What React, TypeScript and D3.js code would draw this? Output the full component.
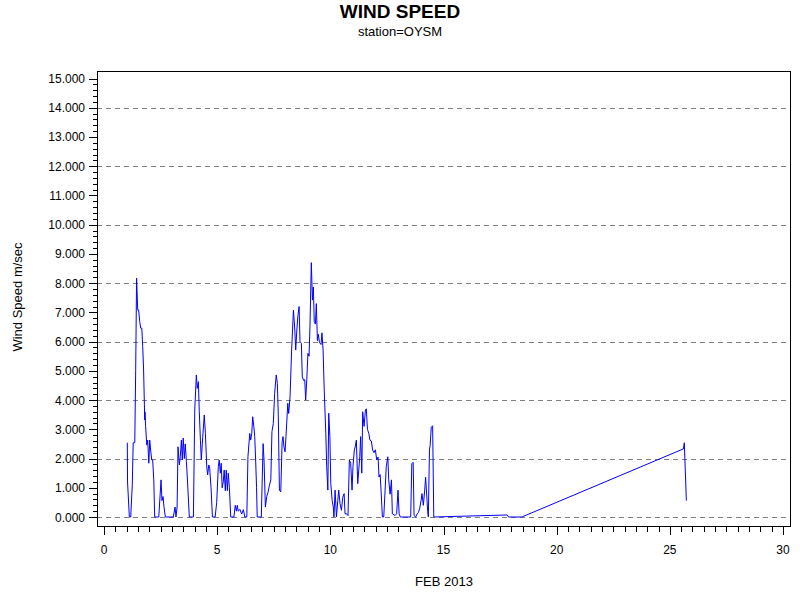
import React from "react";
import * as d3 from "d3";

// Day of February 2013 (fractional) and wind speed (m/sec)
const days: number[] = [
  1.03, 1.04, 1.12, 1.18, 1.25, 1.29, 1.36, 1.40, 1.44, 1.49, 1.53, 1.58, 1.62, 1.67, 1.71, 1.75, 1.80, 1.81, 1.84, 1.89,
  1.93, 1.98, 2.02, 2.06, 2.11, 2.15, 2.20, 2.24, 2.42, 2.52, 2.56, 2.61, 2.65, 2.71, 3.06, 3.14, 3.18, 3.23, 3.27, 3.33,
  3.37, 3.42, 3.46, 3.50, 3.55, 3.59, 3.64, 3.68, 3.77, 3.95, 4.01, 4.08, 4.12, 4.17, 4.21, 4.26, 4.30, 4.36, 4.43, 4.48,
  4.54, 4.58, 4.63, 4.67, 4.73, 4.79, 4.91, 4.98, 5.05, 5.09, 5.14, 5.18, 5.22, 5.27, 5.31, 5.36, 5.40, 5.45, 5.49, 5.54,
  5.60, 5.74, 5.80, 5.85, 5.89, 5.93, 6.01, 6.08, 6.16, 6.22, 6.31, 6.36, 6.44, 6.48, 6.53, 6.57, 6.62, 6.66, 6.70, 6.74,
  6.77, 6.95, 7.03, 7.07, 7.13, 7.19, 7.25, 7.30, 7.37, 7.42, 7.48, 7.54, 7.61, 7.66, 7.70, 7.75, 7.81, 7.87, 7.91, 7.95,
  8.00, 8.04, 8.12, 8.16, 8.22, 8.29, 8.37, 8.43, 8.47, 8.52, 8.57, 8.62, 8.66, 8.72, 8.76, 8.82, 8.87, 8.91, 8.96, 9.01,
  9.06, 9.10, 9.16, 9.21, 9.25, 9.29, 9.34, 9.38, 9.43, 9.47, 9.52, 9.59, 9.63, 9.68, 9.73, 9.80, 9.84, 9.89, 9.93, 9.98,
  10.02, 10.08, 10.13, 10.16, 10.21, 10.27, 10.33, 10.37, 10.43, 10.49, 10.55, 10.61, 10.65, 10.72, 10.78, 10.84, 10.90, 10.96, 11.00, 11.06,
  11.10, 11.15, 11.21, 11.30, 11.34, 11.39, 11.43, 11.49, 11.55, 11.59, 11.64, 11.70, 11.75, 11.81, 11.87, 11.93, 11.99, 12.05, 12.11, 12.15,
  12.20, 12.24, 12.30, 12.36, 12.42, 12.47, 12.54, 12.58, 12.64, 12.70, 12.74, 12.86, 12.93, 12.99, 13.04, 13.09, 13.55, 13.60, 13.66, 13.70,
  13.77, 13.83, 13.89, 13.95, 14.01, 14.05, 14.11, 14.17, 14.21, 14.27, 14.30, 14.33, 14.38, 14.41, 14.46, 14.52, 14.57, 17.82, 17.87, 18.46,
  25.60, 25.64, 25.73,
];
const speeds: number[] = [
  2.54, 1.2, 0, 0, 1.1, 2.54, 2.54, 5.0, 8.17, 7.08, 7.08, 6.68, 6.46, 6.46, 5.83, 5.03, 3.32, 3.6, 3.09, 2.46,
  2.63, 1.84, 2.63, 2.29, 1.95, 1.95, 1.27, 0, 0, 1.27, 0.56, 0.7, 0.35, 0, 0, 0.34, 0, 0.34, 2.4, 1.78,
  2.06, 2.63, 1.95, 2.7, 2.0, 2.5, 1.9, 1.37, 0, 0, 3.66, 4.86, 4.4, 4.63, 3.6, 2.63, 1.95, 2.72, 3.49, 2.86,
  1.72, 1.44, 1.78, 1.66, 1.0, 0, 0, 0.5, 1.72, 1.95, 1.5, 1.84, 1.0, 1.2, 1.61, 0.9, 1.6, 0.9, 1.5, 1.0,
  0, 0, 0.4, 0.2, 0.4, 0.2, 0.26, 0.1, 0.25, 0, 0, 2.06, 2.86, 2.63, 2.86, 3.43, 3.09, 2.75, 1.95, 1.0,
  0, 0, 2.51, 1.95, 0.34, 0.7, 0.85, 1.05, 1.27, 2.92, 3.2, 4.23, 4.86, 4.57, 3.5, 0.92, 0.86, 2.58, 2.75, 2.4,
  2.23, 2.75, 3.89, 3.54, 4.11, 5.71, 7.08, 6.4, 5.71, 6.4, 6.9, 7.2, 6.0, 5.94, 4.8, 4.67, 4.7, 4.0, 4.7, 5.6,
  5.5, 6.5, 8.7, 7.42, 7.87, 6.68, 6.6, 7.3, 6.03, 6.25, 5.97, 5.9, 6.3, 5.71, 4.34, 2.86, 1.72, 0.92, 3.55, 2.75,
  1.14, 0.57, 0.34, 0, 0.92, 0, 0.57, 0.92, 0.45, 0.23, 0.68, 0.8, 0.11, 0.11, 0.05, 1.95, 1.84, 0.92, 1.72, 2.29,
  2.4, 2.63, 1.14, 2.06, 2.75, 1.5, 3.6, 3.1, 3.66, 3.7, 3.0, 2.86, 2.63, 2.6, 2.29, 2.2, 2.3, 1.95, 2.05, 1.37,
  1.45, 0.92, 0, 0, 0.92, 1.72, 2.06, 1.27, 0.78, 1.27, 0.11, 0.05, 0.11, 0.92, 0.11, 0, 0, 1.82, 1.87, 0.05,
  0, 0.1, 0.15, 0.3, 0.57, 0.8, 0.4, 0.92, 1.36, 0.6, 0.2, 0, 2.29, 2.45, 3.07, 3.12, 0, 0.07, 0, 0,
  2.33, 2.54, 0.56,
];

const yTickValues: number[] = d3.range(0, 16, 1);
const yGridValues: number[] = [0, 2, 4, 6, 8, 10, 12, 14];
const xTickValues: number[] = [0, 5, 10, 15, 20, 25, 30];

const TITLE = "WIND SPEED";
const SUBTITLE = "station=OYSM";
const X_LABEL = "FEB 2013";
const Y_LABEL = "Wind Speed m/sec";

export default function App() {
  const W = 800, H = 600;
  const frame = { left: 97, right: 790, top: 71, bottom: 526 };
  const x = d3.scaleLinear().domain([0, 30]).range([104, 783]);
  const y = d3.scaleLinear().domain([0, 15]).range([517, 78.5]);
  const font = "'Liberation Sans', Arial, Helvetica, sans-serif";

  const pts: [number, number][] = days.map((d, i) => [d, speeds[i]]);
  const line = d3
    .line<[number, number]>()
    .x((p) => x(p[0]))
    .y((p) => y(p[1]));

  const yMinor = d3.range(0, 15.001, 0.2).filter((v) => Math.abs(v - Math.round(v)) > 1e-6);
  const xMinor = d3.range(0, 30.001, 0.5).filter((v) => Math.abs(v / 5 - Math.round(v / 5)) > 1e-6);

  return (
    <svg
      width={W}
      height={H}
      style={{ position: "absolute", left: 0, top: 0, background: "#fff" }}
      fontFamily={font}
    >
      <rect x={0} y={0} width={W} height={H} fill="#fff" />
      <text x={400} y={18} textAnchor="middle" fontSize={19} fontWeight="bold">
        {TITLE}
      </text>
      <text x={400} y={36} textAnchor="middle" fontSize={13}>
        {SUBTITLE}
      </text>

      {/* grid */}
      {yGridValues.map((v) => (
        <line
          key={"g" + v}
          x1={frame.left}
          x2={frame.right}
          y1={Math.round(y(v)) + 0.5}
          y2={Math.round(y(v)) + 0.5}
          stroke="#808080"
          strokeDasharray="5,4"
        />
      ))}

      {/* data line */}
      <path d={line(pts) || ""} fill="none" stroke="#0000ff" strokeWidth={1} />

      {/* frame */}
      <rect
        x={frame.left + 0.5}
        y={frame.top + 0.5}
        width={frame.right - frame.left}
        height={frame.bottom - frame.top}
        fill="none"
        stroke="#000"
      />

      {/* y axis ticks */}
      {yTickValues.map((v) => (
        <g key={"y" + v}>
          <line
            x1={frame.left - 8}
            x2={frame.left}
            y1={Math.round(y(v)) + 0.5}
            y2={Math.round(y(v)) + 0.5}
            stroke="#000"
          />
          <text x={85} y={y(v) + 4.5} textAnchor="end" fontSize={12}>
            {d3.format(".3f")(v)}
          </text>
        </g>
      ))}
      {yMinor.map((v, i) => (
        <line
          key={"ym" + i}
          x1={frame.left - 4}
          x2={frame.left}
          y1={Math.round(y(v)) + 0.5}
          y2={Math.round(y(v)) + 0.5}
          stroke="#000"
        />
      ))}

      {/* x axis ticks */}
      {xTickValues.map((v) => (
        <g key={"x" + v}>
          <line
            x1={Math.round(x(v)) + 0.5}
            x2={Math.round(x(v)) + 0.5}
            y1={frame.bottom}
            y2={frame.bottom + 9}
            stroke="#000"
          />
          <text x={x(v)} y={554} textAnchor="middle" fontSize={12}>
            {String(v)}
          </text>
        </g>
      ))}
      {xMinor.map((v, i) => (
        <line
          key={"xm" + i}
          x1={Math.round(x(v)) + 0.5}
          x2={Math.round(x(v)) + 0.5}
          y1={frame.bottom}
          y2={frame.bottom + 6}
          stroke="#000"
        />
      ))}

      <text x={444} y={586} textAnchor="middle" fontSize={13}>
        {X_LABEL}
      </text>
      <text
        transform={`translate(22, 297) rotate(-90)`}
        textAnchor="middle"
        fontSize={13}
      >
        {Y_LABEL}
      </text>
    </svg>
  );
}
